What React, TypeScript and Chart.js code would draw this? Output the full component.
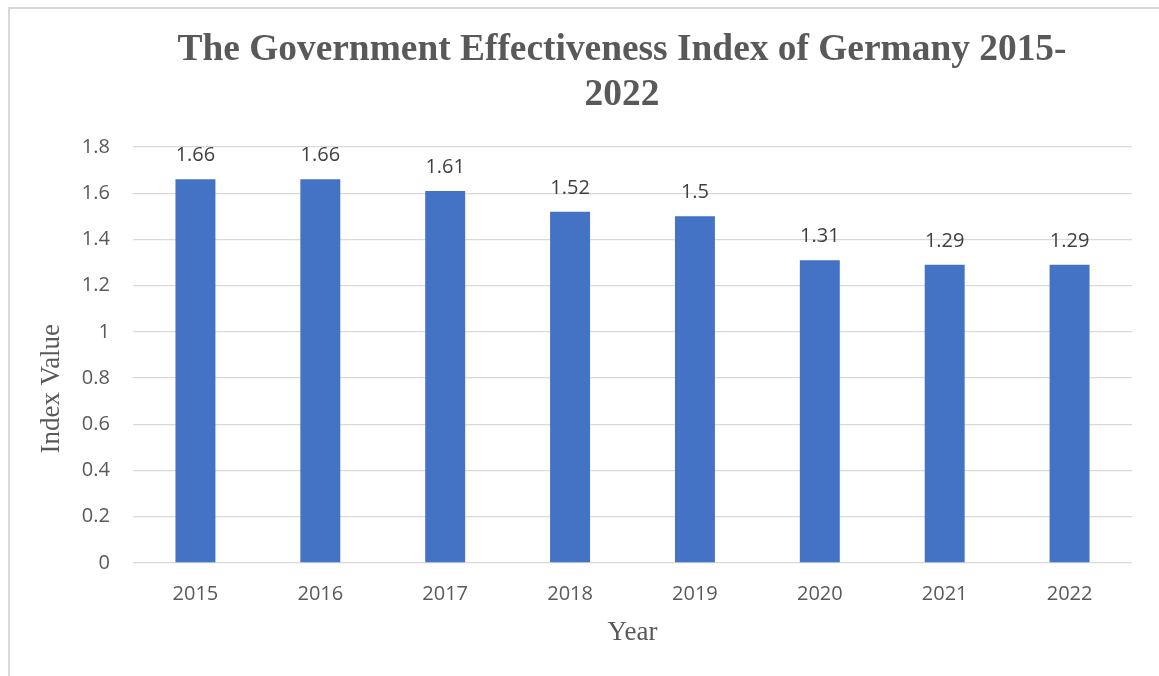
import React, { useEffect, useRef } from "react";
import { Chart, registerables } from "chart.js";

Chart.register(...registerables);

const years = ["2015", "2016", "2017", "2018", "2019", "2020", "2021", "2022"];
const indexValues = [1.66, 1.66, 1.61, 1.52, 1.5, 1.31, 1.29, 1.29];
const yTickLabels = ["0", "0.2", "0.4", "0.6", "0.8", "1", "1.2", "1.4", "1.6", "1.8"];
const titleLines = ["The Government Effectiveness Index of Germany 2015-", "2022"];
const xTitle = "Year";
const yTitle = "Index Value";

const TICK_FONT = { family: "'Open Sans', sans-serif", size: 20 };
const SERIF = "'Liberation Serif', 'Times New Roman', serif";

const valueLabels = {
  id: "valueLabels",
  afterDatasetsDraw(chart: any) {
    const { ctx } = chart;
    const meta = chart.getDatasetMeta(0);
    const data = chart.data.datasets[0].data as number[];
    ctx.save();
    ctx.font = `20px ${TICK_FONT.family}`;
    ctx.fillStyle = "#404040";
    ctx.textAlign = "center";
    ctx.textBaseline = "alphabetic";
    meta.data.forEach((bar: any, i: number) => {
      ctx.fillText(String(data[i]), bar.x, bar.y - 18);
    });
    ctx.restore();
  },
};

export default function App() {
  const ref = useRef<HTMLCanvasElement>(null);

  useEffect(() => {
    if (!ref.current) return;
    const chart = new Chart(ref.current, {
      type: "bar",
      data: {
        labels: years,
        datasets: [
          {
            data: indexValues,
            backgroundColor: "#4472c4",
            borderWidth: 0,
            categoryPercentage: 1,
            barPercentage: 0.32,
          },
        ],
      },
      options: {
        responsive: false,
        animation: false,
        devicePixelRatio: 1,
        layout: { padding: { left: 102, right: 98, top: 0, bottom: 0 } },
        plugins: {
          legend: { display: false },
          tooltip: { enabled: false },
          title: {
            display: true,
            text: titleLines,
            color: "#595959",
            font: { family: SERIF, size: 37.4, weight: "bold", lineHeight: 45 / 37.4 },
            padding: { top: 18.5, bottom: 29.5 },
          },
        },
        scales: {
          x: {
            afterFit(scale: any) {
              scale.height = 146;
            },
            grid: { display: false, drawTicks: false },
            border: { display: false },
            ticks: { color: "#595959", font: TICK_FONT, padding: 19 },
            title: {
              display: true,
              text: xTitle,
              color: "#595959",
              font: { family: SERIF, size: 27 },
              padding: { top: 0, bottom: 60 },
            },
          },
          y: {
            min: 0,
            max: 1.8,
            afterFit(scale: any) {
              scale.width = 21;
            },
            grid: { color: "#d9d9d9", lineWidth: 1.3, drawTicks: false },
            border: { display: false },
            ticks: {
              stepSize: 0.2,
              color: "#595959",
              font: TICK_FONT,
              mirror: true,
              crossAlign: "far",
              padding: -51.2,
              callback: (_v: any, i: number) => yTickLabels[i],
            },
            title: {
              display: true,
              text: yTitle + "          ",
              color: "#595959",
              font: { family: SERIF, size: 27 },
              padding: { top: -76.2, bottom: 0 },
            },
          },
        },
      },
      plugins: [valueLabels],
    });
    return () => chart.destroy();
  }, []);

  return (
    <div style={{ position: "fixed", inset: 0, overflow: "hidden", background: "#fff" }}>
      <div
        style={{
          position: "absolute",
          left: 8,
          top: 7,
          width: 1220,
          height: 700,
          border: "2px solid #d9d9d9",
        }}
      >
        <canvas ref={ref} width={1220} height={700} style={{ display: "block" }} />
      </div>
    </div>
  );
}
